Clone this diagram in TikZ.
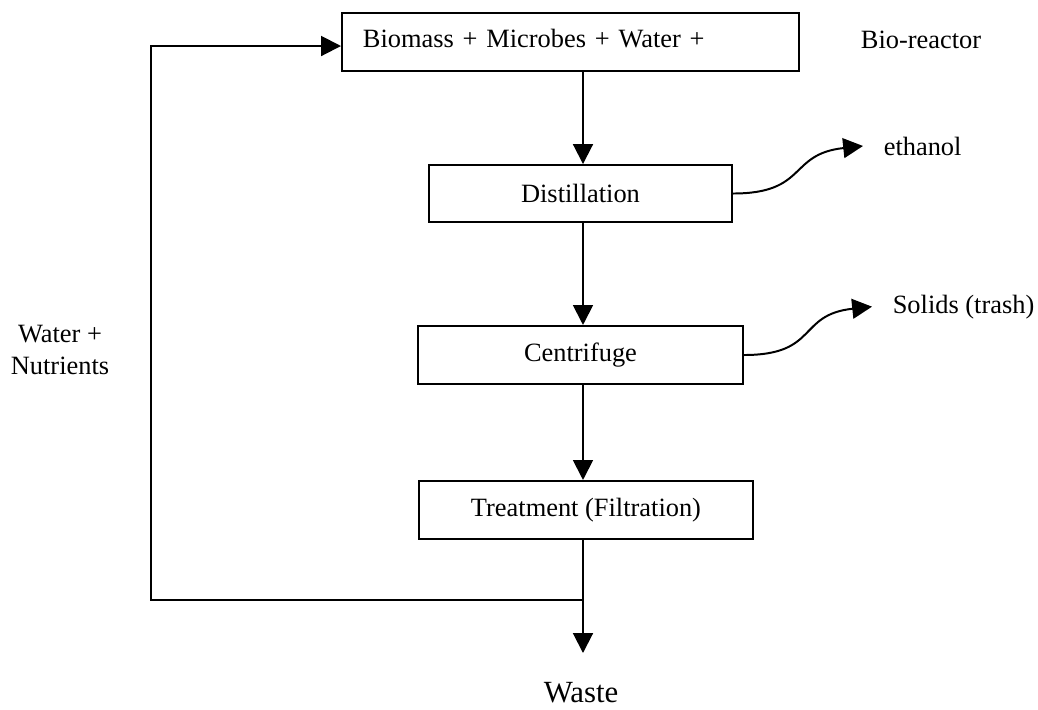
\documentclass[tikz,border=0pt]{standalone}
\usepackage{fontspec}
\setmainfont{Liberation Serif}
\usetikzlibrary{arrows.meta}
\begin{document}
\begin{tikzpicture}[x=0.4545pt,y=-0.4545pt,line width=0.9pt,
  box/.style={draw, inner sep=0pt, font=\fontsize{12}{14.5}\selectfont},
  lbl/.style={inner sep=0pt, font=\fontsize{12}{14.5}\selectfont},
  flow/.style={-{Triangle[length=9pt,width=9pt]}}]
\useasboundingbox (0,0) rectangle (1038,709);
\node[box, text width=188.7pt, align=left, inner xsep=9.5pt, minimum height=26.4pt, text depth=3.6pt] (bio) at (570.5,42) {Biomass + Microbes + Water +};
\node[box, minimum width=137.7pt, minimum height=25.9pt] (dist) at (580.5,193.5) {Distillation};
\node[box, minimum width=147.7pt, minimum height=26.4pt] (cent) at (580.5,355) {Centrifuge};
\node[box, minimum width=151.8pt, minimum height=26.4pt] (filt) at (586,510) {Treatment (Filtration)};
\node[lbl, anchor=base west] (tag) at (860,48) {Bio-reactor};
\node[lbl, inner xsep=9pt, anchor=base west] (eth) at (863,155) {ethanol};
\node[lbl, inner xsep=9pt, anchor=base west] (sol) at (872,313) {Solids (trash)};
\node[lbl, align=center] (nutr) at (60,350) {Water +\\Nutrients};
\node[lbl, font=\fontsize{14}{16.8}\selectfont, anchor=base] (waste) at (581,702) {Waste};
\coordinate (spine) at (583,0);
\coordinate (jn) at (583,600);
\coordinate (lp) at (151,46);
\coordinate (drain) at (583,653);
\draw[flow](bio.south -| spine) -- (dist.north -| spine);
\draw[flow](dist.south -| spine) -- (cent.north -| spine);
\draw[flow](cent.south -| spine) -- (filt.north -| spine);
\draw[flow](filt.south -| spine) -- (drain);
\draw[flow](jn) -| (lp) -- (bio.west |- lp);
\draw[flow](dist.east) .. controls +(75,0) and +(-75,8) .. (eth.west);
\draw[flow](cent.east) .. controls +(75,0) and +(-75,8) .. (sol.west);
\end{tikzpicture}
\end{document}
